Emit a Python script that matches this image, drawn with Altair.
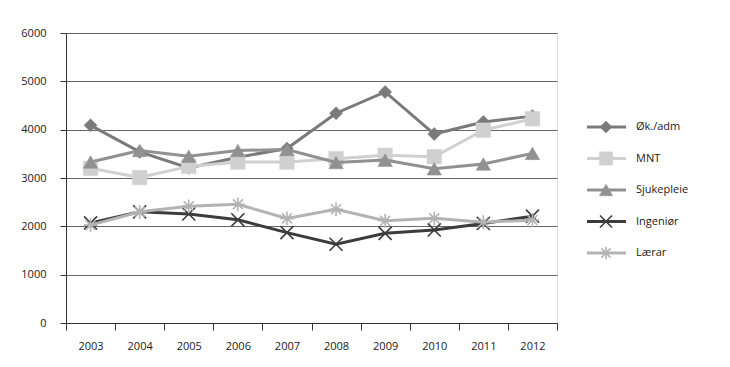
import altair as alt
import pandas as pd

years = ["2003", "2004", "2005", "2006", "2007", "2008", "2009", "2010", "2011", "2012"]
series_names = ["Øk./adm", "MNT", "Sjukepleie", "Ingeniør", "Lærar"]
ok_adm = [4090, 3540, 3210, 3430, 3610, 4340, 4780, 3910, 4160, 4280]
mnt = [3200, 3010, 3240, 3330, 3330, 3400, 3470, 3440, 3990, 4225]
sjukepleie = [3330, 3570, 3450, 3570, 3590, 3320, 3370, 3190, 3290, 3510]
ingenior = [2070, 2300, 2255, 2135, 1870, 1630, 1855, 1925, 2060, 2210]
laerar = [2025, 2300, 2415, 2455, 2165, 2355, 2115, 2165, 2085, 2130]

values = [ok_adm, mnt, sjukepleie, ingenior, laerar]
colors = ["#7a7a7a", "#d0d0d0", "#919191", "#3c3c3c", "#b3b3b3"]
X_PATH = "M-1,-1L1,1M-1,1L1,-1"
STAR_PATH = "M-1,0H1M0,-1V1M-0.72,-0.72L0.72,0.72M-0.72,0.72L0.72,-0.72"
shapes = ["diamond", "square", "triangle-up", X_PATH, STAR_PATH]
filled = [True, True, True, False, False]
sizes = [170, 210, 210, 170, 190]

rows = []
for name, vals in zip(series_names, values):
    for yr, v in zip(years, vals):
        rows.append({"series": name, "year": yr, "value": v})
df = pd.DataFrame(rows)
legend_df = pd.DataFrame({"series": series_names})

FONT = "Open Sans"

x_enc = alt.X("year:O", sort=years, title=None,
              scale=alt.Scale(type="band", paddingInner=0, paddingOuter=0),
              axis=alt.Axis(tickBand="extent", labelAngle=0, tickSize=7, labelPadding=10,
                            domainColor="#333333", tickColor="#333333", grid=False,
                            labelFont=FONT, labelFontSize=11, labelColor="#1a1a1a"))
y_enc = alt.Y("value:Q", title=None,
              scale=alt.Scale(domain=[0, 6000], nice=False),
              axis=alt.Axis(values=[0, 1000, 2000, 3000, 4000, 5000, 6000], format="d",
                            tickSize=6, labelPadding=14, domainColor="#333333",
                            tickColor="#333333", grid=True, gridColor="#666666", gridWidth=1,
                            labelFont=FONT, labelFontSize=11, labelColor="#1a1a1a"))

data_layers = []
for i, name in enumerate(series_names):
    base = alt.Chart(df).transform_filter(alt.datum.series == name)
    line = base.mark_line(color=colors[i], strokeWidth=3).encode(x=x_enc, y=y_enc)
    if filled[i]:
        pt = base.mark_point(shape=shapes[i], filled=True, fill=colors[i], stroke=colors[i],
                             strokeWidth=0.5, size=sizes[i], opacity=1)
    else:
        pt = base.mark_point(shape=shapes[i], filled=False, stroke=colors[i],
                             strokeWidth=1.6, size=sizes[i], opacity=1)
    pt = pt.encode(x=x_enc, y=y_enc)
    data_layers += [line, pt]

main = alt.layer(*data_layers)

leg_y = alt.Y("series:N", sort=series_names, axis=None,
              scale=alt.Scale(type="point", domain=series_names, range=[94, 220], padding=0))
leg_layers = []
for i, name in enumerate(series_names):
    lb = alt.Chart(legend_df).transform_filter(alt.datum.series == name)
    leg_layers.append(lb.mark_rule(color=colors[i], strokeWidth=3).encode(
        x=alt.value(521), x2=alt.value(560), y=leg_y))
    if filled[i]:
        lp = lb.mark_point(shape=shapes[i], filled=True, fill=colors[i], stroke=colors[i],
                           strokeWidth=0.5, size=sizes[i] * 0.85, opacity=1)
    else:
        lp = lb.mark_point(shape=shapes[i], filled=False, stroke=colors[i],
                           strokeWidth=1.6, size=sizes[i] * 0.85, opacity=1)
    leg_layers.append(lp.encode(x=alt.value(540), y=leg_y))
leg_text = alt.Chart(legend_df).mark_text(align="left", baseline="middle", font=FONT,
                                          fontSize=11, color="#1a1a1a").encode(
    x=alt.value(570), y=leg_y, text="series:N")
legend = alt.layer(*leg_layers, leg_text)

chart = alt.layer(main, legend).resolve_scale(y="independent").properties(
    width=491, height=290,
    autosize=alt.AutoSizeParams(type="none"),
    padding={"left": 58, "top": 25, "right": 165, "bottom": 36},
).configure_view(stroke=None).configure(background="white")

chart.save("out.html", embed_options={"renderer": "svg", "actions": False})
